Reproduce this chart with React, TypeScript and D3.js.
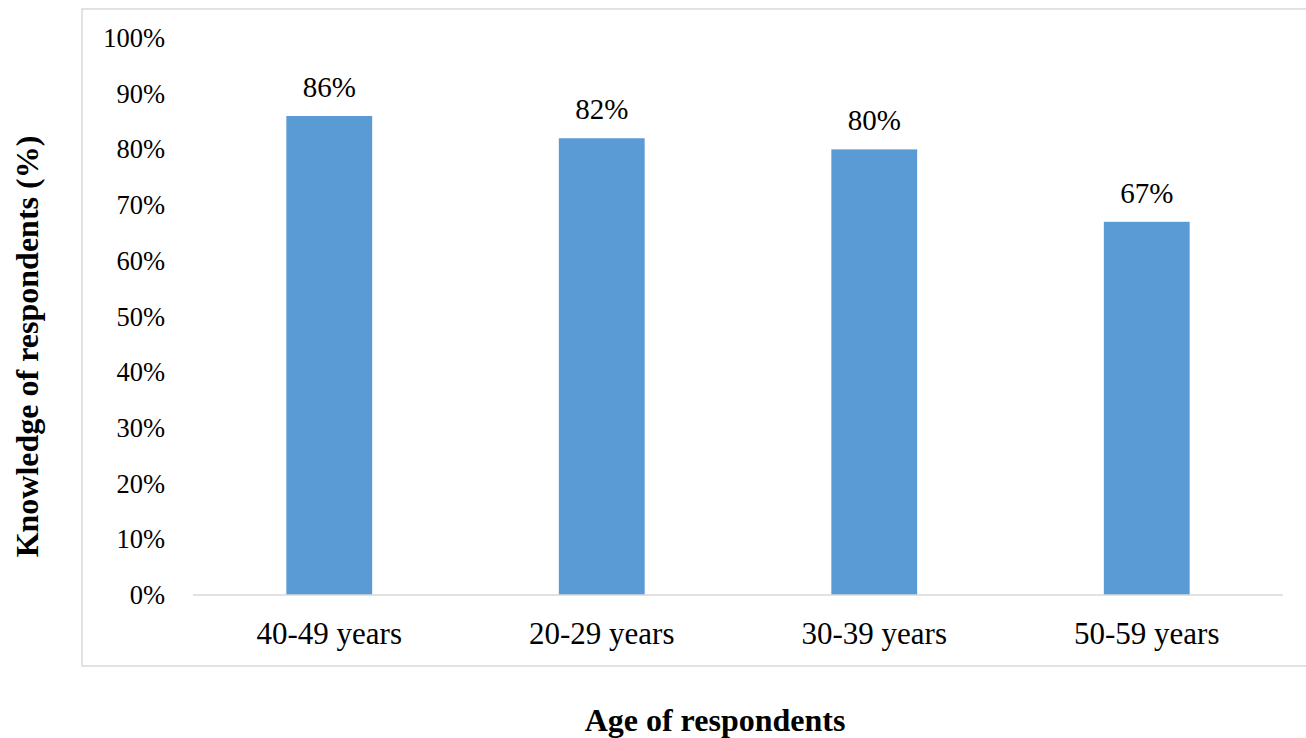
import React from "react";
import * as d3 from "d3";

const categories = ["40-49 years", "20-29 years", "30-39 years", "50-59 years"];
const knowledge = [86, 82, 80, 67];
const yTicks = [0, 10, 20, 30, 40, 50, 60, 70, 80, 90, 100];
const xTitle = "Age of respondents";
const yTitle = "Knowledge of respondents (%)";

const W = 1306;
const H = 738;
const plot = { left: 193, right: 1283, top: 38, bottom: 595 };
const serif = "'Liberation Serif', 'Times New Roman', serif";

export default function App() {
  const x = d3
    .scaleBand<string>()
    .domain(categories)
    .range([plot.left, plot.right])
    .paddingInner(0.685)
    .paddingOuter(0.3425);
  const y = d3.scaleLinear().domain([0, 100]).range([plot.bottom, plot.top]);

  return (
    <svg
      width={W}
      height={H}
      style={{ position: "absolute", left: 0, top: 0, background: "#fff" }}
      fontFamily={serif}
    >
      <rect x={0} y={0} width={W} height={H} fill="#fff" />
      {/* chart area frame */}
      <rect x={82} y={9} width={1240} height={657} fill="none" stroke="#d9d9d9" strokeWidth={1.5} />

      {/* y tick labels */}
      {yTicks.map((t) => (
        <text
          key={t}
          x={165}
          y={y(t)}
          textAnchor="end"
          dominantBaseline="central"
          fontSize={26.5}
          fill="#000"
        >
          {t}%
        </text>
      ))}

      {/* bars */}
      {categories.map((c, i) => (
        <rect
          key={c}
          x={x(c)}
          y={y(knowledge[i])}
          width={x.bandwidth()}
          height={y(0) - y(knowledge[i])}
          fill="#5b9bd5"
        />
      ))}

      {/* baseline */}
      <line x1={plot.left} x2={plot.right} y1={y(0)} y2={y(0)} stroke="#d9d9d9" strokeWidth={1.5} />

      {/* value labels */}
      {categories.map((c, i) => (
        <text
          key={c}
          x={(x(c) ?? 0) + x.bandwidth() / 2}
          y={y(knowledge[i]) - 19}
          textAnchor="middle"
          fontSize={29}
          fill="#000"
        >
          {knowledge[i]}%
        </text>
      ))}

      {/* category labels */}
      {categories.map((c) => (
        <text
          key={c}
          x={(x(c) ?? 0) + x.bandwidth() / 2}
          y={633}
          textAnchor="middle"
          dominantBaseline="central"
          fontSize={31}
          fill="#000"
        >
          {c}
        </text>
      ))}

      {/* axis titles */}
      <text
        x={715}
        y={720}
        textAnchor="middle"
        dominantBaseline="central"
        fontSize={32}
        fontWeight="bold"
        fill="#000"
      >
        {xTitle}
      </text>
      <text
        transform={`translate(27, ${(133 + 560) / 2}) rotate(-90)`}
        textAnchor="middle"
        dominantBaseline="central"
        fontSize={32}
        fontWeight="bold"
        fill="#000"
      >
        {yTitle}
      </text>
    </svg>
  );
}
